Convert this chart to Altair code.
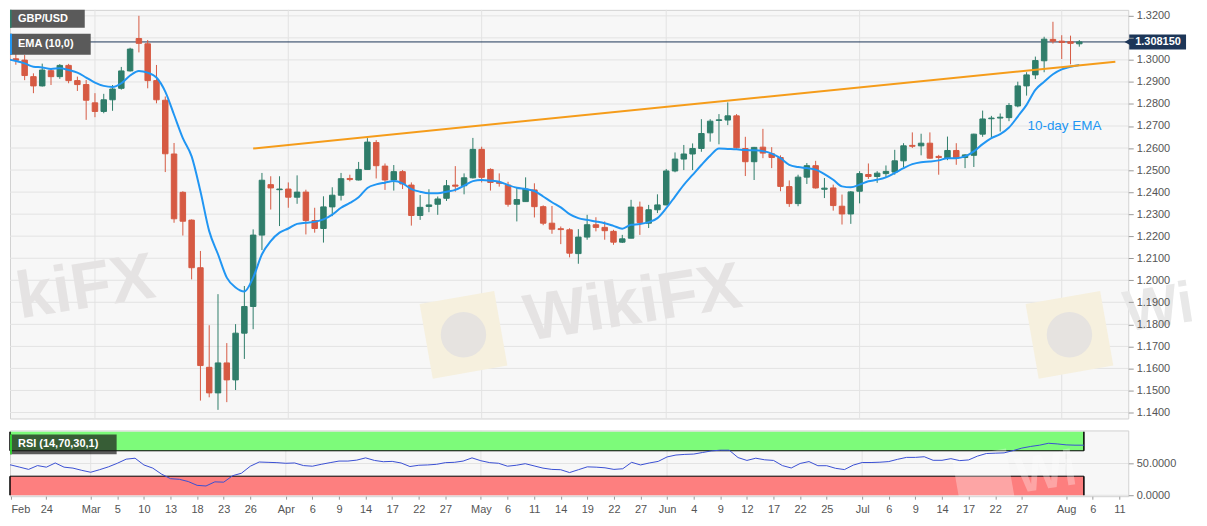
import altair as alt
import pandas as pd

# ---------------- data ----------------
opens = [1.3046, 1.3005, 1.2999, 1.2924, 1.2882, 1.2951, 1.2924, 1.2975, 1.2906, 1.2888,
         1.2805, 1.2766, 1.2819, 1.2871, 1.2950, 1.3097, 1.3073, 1.2906, 1.2817, 1.2573,
         1.2399, 1.2273, 1.2057, 1.1605, 1.1489, 1.1625, 1.1548, 1.1760, 1.1881, 1.2205,
         1.2434, 1.2411, 1.2414, 1.2377, 1.2400, 1.2271, 1.2235, 1.2333, 1.2386, 1.2462,
         1.2455, 1.2503, 1.2625, 1.2518, 1.2455, 1.2493, 1.2432, 1.2294, 1.2335, 1.2345,
         1.2372, 1.2432, 1.2429, 1.2465, 1.2594, 1.2503, 1.2444, 1.2432, 1.2345, 1.2357,
         1.2410, 1.2334, 1.2259, 1.2234, 1.2229, 1.2121, 1.2196, 1.2252, 1.2240, 1.2222,
         1.2173, 1.2191, 1.2332, 1.2259, 1.2320, 1.2342, 1.2496, 1.2550, 1.2573, 1.2598,
         1.2669, 1.2725, 1.2727, 1.2746, 1.2598, 1.2538, 1.2604, 1.2574, 1.2557, 1.2425,
         1.2348, 1.2468, 1.2520, 1.2413, 1.2419, 1.2336, 1.2301, 1.2404, 1.2480, 1.2471,
         1.2484, 1.2491, 1.2542, 1.2612, 1.2610, 1.2622, 1.2562, 1.2554, 1.2589, 1.2557,
         1.2567, 1.2663, 1.2733, 1.2736, 1.2738, 1.2791, 1.2882, 1.2932, 1.2996, 1.3093,
         1.3085, 1.3082, 1.3073]
highs = [1.3060, 1.3035, 1.3022, 1.2939, 1.2983, 1.2962, 1.2981, 1.2982, 1.2924, 1.2909,
         1.2849, 1.2846, 1.2886, 1.2968, 1.3055, 1.3200, 1.3090, 1.2977, 1.2834, 1.2623,
         1.2404, 1.2276, 1.2133, 1.1796, 1.1937, 1.1715, 1.1801, 1.1974, 1.2231, 1.2487,
         1.2472, 1.2472, 1.2444, 1.2476, 1.2411, 1.2329, 1.2381, 1.2422, 1.2487, 1.2479,
         1.2537, 1.2645, 1.2636, 1.2530, 1.2523, 1.2500, 1.2444, 1.2387, 1.2413, 1.2380,
         1.2455, 1.2518, 1.2485, 1.2646, 1.2606, 1.2508, 1.2485, 1.2447, 1.2420, 1.2467,
         1.2440, 1.2340, 1.2337, 1.2244, 1.2236, 1.2232, 1.2297, 1.2286, 1.2267, 1.2229,
         1.2206, 1.2365, 1.2357, 1.2342, 1.2390, 1.2505, 1.2580, 1.2614, 1.2621, 1.2731,
         1.2731, 1.2754, 1.2807, 1.2754, 1.2651, 1.2605, 1.2687, 1.2604, 1.2567, 1.2453,
         1.2479, 1.2532, 1.2542, 1.2464, 1.2434, 1.2389, 1.2405, 1.2495, 1.2530, 1.2495,
         1.2521, 1.2592, 1.2622, 1.2671, 1.2665, 1.2671, 1.2569, 1.2652, 1.2622, 1.2572,
         1.2665, 1.2770, 1.2746, 1.2757, 1.2804, 1.2901, 1.2944, 1.3015, 1.3105, 1.3173,
         1.3112, 1.3110, 1.3090]
lows = [1.2990, 1.2978, 1.2908, 1.2849, 1.2879, 1.2886, 1.2914, 1.2894, 1.2859, 1.2728,
        1.2740, 1.2758, 1.2769, 1.2865, 1.2947, 1.3034, 1.2871, 1.2803, 1.2491, 1.2261,
        1.2203, 1.2004, 1.1454, 1.1469, 1.1412, 1.1447, 1.1502, 1.1643, 1.1778, 1.2137,
        1.2321, 1.2246, 1.2329, 1.2347, 1.2208, 1.2216, 1.2171, 1.2291, 1.2362, 1.2449,
        1.2453, 1.2503, 1.2462, 1.2410, 1.2407, 1.2414, 1.2248, 1.2274, 1.2309, 1.2297,
        1.2360, 1.2402, 1.2390, 1.2462, 1.2444, 1.2407, 1.2425, 1.2334, 1.2267, 1.2357,
        1.2285, 1.2250, 1.2211, 1.2164, 1.2104, 1.2075, 1.2184, 1.2222, 1.2184, 1.2161,
        1.2169, 1.2191, 1.2206, 1.2237, 1.2305, 1.2340, 1.2490, 1.2500, 1.2500, 1.2583,
        1.2629, 1.2617, 1.2704, 1.2598, 1.2473, 1.2455, 1.2554, 1.2509, 1.2404, 1.2333,
        1.2336, 1.2437, 1.2416, 1.2373, 1.2316, 1.2253, 1.2256, 1.2349, 1.2460, 1.2442,
        1.2464, 1.2479, 1.2512, 1.2600, 1.2567, 1.2552, 1.2479, 1.2545, 1.2524, 1.2509,
        1.2514, 1.2651, 1.2647, 1.2675, 1.2722, 1.2785, 1.2838, 1.2913, 1.2944, 1.3074,
        1.3004, 1.2980, 1.3060]
closes = [1.3004, 1.2998, 1.2929, 1.2882, 1.2954, 1.2924, 1.2975, 1.2906, 1.2888, 1.2817,
          1.2766, 1.2819, 1.2868, 1.2950, 1.3049, 1.3075, 1.2906, 1.2819, 1.2574, 1.2279,
          1.2268, 1.2057, 1.1613, 1.1489, 1.1625, 1.1548, 1.1760, 1.1881, 1.2205, 1.2454,
          1.2419, 1.2414, 1.2377, 1.2400, 1.2271, 1.2235, 1.2333, 1.2386, 1.2461, 1.2457,
          1.2503, 1.2627, 1.2520, 1.2455, 1.2493, 1.2437, 1.2294, 1.2331, 1.2342, 1.2369,
          1.2429, 1.2427, 1.2465, 1.2594, 1.2467, 1.2444, 1.2440, 1.2345, 1.2366, 1.2414,
          1.2334, 1.2259, 1.2232, 1.2230, 1.2123, 1.2196, 1.2252, 1.2240, 1.2225, 1.2173,
          1.2188, 1.2332, 1.2262, 1.2320, 1.2342, 1.2496, 1.2550, 1.2573, 1.2598, 1.2666,
          1.2722, 1.2728, 1.2746, 1.2601, 1.2538, 1.2603, 1.2577, 1.2557, 1.2426, 1.2348,
          1.2468, 1.2520, 1.2419, 1.2418, 1.2339, 1.2301, 1.2401, 1.2484, 1.2471, 1.2486,
          1.2494, 1.2542, 1.2610, 1.2608, 1.2622, 1.2554, 1.2557, 1.2589, 1.2554, 1.2569,
          1.2663, 1.2732, 1.2736, 1.2740, 1.2793, 1.2882, 1.2932, 1.2997, 1.3094, 1.3085,
          1.3079, 1.3075, 1.30815]
ema10 = [1.3004, 1.2995, 1.2984, 1.2969, 1.2966, 1.2959, 1.2962, 1.2954, 1.2942, 1.2920,
         1.2897, 1.2882, 1.2877, 1.2894, 1.2929, 1.2950, 1.2942, 1.2920, 1.2856, 1.2751,
         1.2645, 1.2562, 1.2404, 1.2223, 1.2118, 1.2012, 1.1967, 1.1949, 1.2012, 1.2118,
         1.2178, 1.2216, 1.2235, 1.2256, 1.2261, 1.2265, 1.2276, 1.2298, 1.2329, 1.2351,
         1.2377, 1.2419, 1.2435, 1.2443, 1.2450, 1.2440, 1.2414, 1.2402, 1.2395, 1.2395,
         1.2402, 1.2410, 1.2429, 1.2450, 1.2455, 1.2452, 1.2447, 1.2432, 1.2420, 1.2414,
         1.2405, 1.2380, 1.2354, 1.2331, 1.2300, 1.2282, 1.2274, 1.2267, 1.2259, 1.2247,
         1.2234, 1.2252, 1.2255, 1.2264, 1.2282, 1.2327, 1.2380, 1.2433, 1.2478, 1.2523,
         1.2565, 1.2598, 1.2596, 1.2594, 1.2591, 1.2590, 1.2586, 1.2575, 1.2554, 1.2524,
         1.2514, 1.2509, 1.2502, 1.2482, 1.2456, 1.2426, 1.2422, 1.2434, 1.2449, 1.2456,
         1.2467, 1.2487, 1.2509, 1.2527, 1.2536, 1.2539, 1.2544, 1.2554, 1.2554, 1.2562,
         1.2585, 1.2618, 1.2645, 1.2663, 1.2693, 1.2743, 1.2796, 1.2864, 1.2901, 1.2935,
         1.2957, 1.2969, 1.2977]
rsi14 = [49.2, 47.7, 44.2, 40.7, 46.7, 44.2, 50.8, 44.2, 42.7, 39.2,
         36.2, 40.2, 44.7, 50.3, 56.8, 58.3, 47.7, 42.7, 33.2, 26.1,
         25.1, 21.6, 15.6, 14.6, 21.1, 20.6, 30.7, 34.7, 45.7, 52.3,
         51.8, 51.3, 50.3, 50.8, 46.7, 45.7, 48.7, 51.3, 53.8, 53.8,
         55.3, 58.8, 54.8, 52.8, 53.3, 50.8, 45.2, 47.2, 47.7, 48.7,
         51.3, 51.8, 53.8, 58.8, 54.3, 51.3, 50.3, 45.7, 47.2, 49.7,
         46.2, 42.7, 40.7, 40.2, 35.7, 40.2, 44.7, 44.2, 43.2, 40.7,
         41.7, 51.8, 47.7, 50.8, 53.3, 60.3, 63.3, 64.3, 64.8, 67.3,
         69.8, 70.9, 70.9, 59.3, 54.8, 58.3, 55.8, 54.8, 46.7, 42.9,
         50.0, 53.0, 46.5, 46.5, 42.4, 40.4, 47.5, 51.5, 51.5, 52.0,
         53.0, 56.6, 59.6, 59.6, 60.6, 55.0, 55.0, 57.6, 54.5, 55.6,
         61.6, 65.7, 66.2, 66.7, 70.2, 74.2, 76.8, 78.8, 81.8, 80.8,
         79.3, 78.8, 78.8]

tick_idx = [1, 5, 10, 13, 16, 19, 22, 25, 28, 32, 35, 38, 41, 44, 47, 50, 54, 57, 60, 63,
            66, 69, 72, 75, 78, 81, 84, 87, 90, 93, 97, 100, 103, 106, 109, 112, 115, 120, 123, 126]
tick_text = ["Feb", "24", "Mar", "5", "10", "13", "18", "23", "26", "Apr", "6", "9", "14", "17",
             "22", "27", "May", "6", "11", "14", "19", "22", "27", "Jun", "4", "9", "12", "17",
             "22", "25", "Jul", "6", "9", "14", "17", "22", "27", "Aug", "6", "11"]
month_idx = [10, 32, 54, 75, 97, 120]
price_ticks = [1.14, 1.15, 1.16, 1.17, 1.18, 1.19, 1.20, 1.21, 1.22, 1.23, 1.24, 1.25,
               1.26, 1.27, 1.28, 1.29, 1.30, 1.31, 1.32]
rsi_ticks = [0, 50]
rsi_bands_lo = [70, 0]
rsi_bands_hi = [100, 30]
rsi_band_names = ["overbought", "oversold"]
trend_idx = [28, 126.1]
trend_val = [1.2598, 1.2992]
last_price = 1.30815
ema_label = ["10-day EMA"]
ema_label_pos = [116.1, 1.2702]
series_name = "GBP/USD"
ema_name = "EMA (10,0)"
rsi_name = "RSI (14,70,30,1)"
watermark = "WikiFX"

# ---------------- styles ----------------
GREEN = "#2f7d6a"
RED = "#d65a43"
EMA_C = "#2196f3"
ORANGE = "#f59c1a"
NAVY = "#1d3658"
RSI_C = "#3a4fd3"
PLOT_BG = "#f7f7f7"
GRID = "#e3e3e3"
BORDER = "#d2d2d2"
LABEL = "#555555"
FONT = "Liberation Sans"
GREEN_BAND = "#7dfb7a"
RED_BAND = "#fd7f7f"
WM = "#e5e3e3"
LOGO = "#f6f0de"

N = len(closes)
X_MIN, X_MAX = 0.9, 127.0
P_MIN, P_MAX = 1.13729, 1.32271
R_MIN, R_MAX = -1.5, 102.0
W, H1, H2 = 1122, 410, 66

df = pd.DataFrame(dict(i=list(range(N)), o=opens, h=highs, l=lows, c=closes,
                       ema=ema10, rsi=rsi14))

xs = alt.Scale(domain=[X_MIN, X_MAX], nice=False, zero=False)
ys = alt.Scale(domain=[P_MIN, P_MAX], nice=False, zero=False)
rs = alt.Scale(domain=[R_MIN, R_MAX], nice=False, zero=False)

updown = alt.condition("datum.c >= datum.o", alt.value(GREEN), alt.value(RED))

hidden_price = 1.31   # covered by the last-price box in the reference
price_axis = alt.Axis(orient="right", values=price_ticks,
                      labelExpr=f"datum.value == {hidden_price} ? '' : format(datum.value, '.4f')",
                      grid=False, domain=False, ticks=True, tickSize=5, zindex=1,
                      tickColor="#9a9a9a", labelColor=LABEL, labelFontSize=11,
                      labelFont=FONT, labelPadding=3, title=None)
x_expr = "[" + ",".join(repr(t) for t in tick_text) + "][indexof([" + \
         ",".join(str(v) for v in tick_idx) + "], datum.value)]"
x_axis = alt.Axis(values=tick_idx, labelExpr=x_expr, grid=False, domain=False, ticks=True,
                  tickSize=3, tickColor="#9a9a9a", labelColor=LABEL, labelFontSize=11,
                  labelFont=FONT, labelPadding=4, labelOverlap=False, labelBound=False,
                  labelFlush=False, title=None, zindex=1,
                  labelAlign={"condition": {"test": f"datum.value == {tick_idx[0]}",
                                            "value": "left"}, "value": "center"})
rsi_axis = alt.Axis(orient="right", values=rsi_ticks, format=".4f", grid=False,
                    domain=False, ticks=True, tickSize=5, zindex=1,
                    tickColor="#9a9a9a", labelColor=LABEL, labelFontSize=11,
                    labelFont=FONT, labelPadding=3, title=None)


def xt(field):   # x in the price pane (no axis drawn there)
    return alt.X(field, scale=xs, axis=None, title=None)


def xb(field):   # x in the RSI pane (carries the date axis)
    return alt.X(field, scale=xs, axis=x_axis, title=None)


def yp(field):
    return alt.Y(field, scale=ys, axis=price_axis, title=None)


def yr(field):
    return alt.Y(field, scale=rs, axis=rsi_axis, title=None)


ONE = pd.DataFrame({"k": [0]})


def box(x0, x1, y0, y1, fill, opacity=1.0):
    return alt.Chart(ONE).mark_rect(color=fill, opacity=opacity).encode(
        x=alt.value(x0), x2=alt.value(x1), y=alt.value(y0), y2=alt.value(y1))


def label(text, x, y, size=11):
    return alt.Chart(pd.DataFrame({"t": [text]})).mark_text(
        align="left", baseline="middle", color="white", fontWeight="bold",
        fontSize=size, font=FONT).encode(x=alt.value(x), y=alt.value(y), text="t:N")


def wm_text(text, x, y, align="center", size=66, color=WM, opacity=1.0, clip=True):
    return alt.Chart(pd.DataFrame({"t": [text]})).mark_text(
        fontSize=size, fontWeight="bold", color=color, angle=351, align=align,
        baseline="middle", font=FONT, clip=clip, opacity=opacity).encode(
        x=alt.value(x), y=alt.value(y), text="t:N")


def logo(x, y, side=76, fill=LOGO, inner="#e6e3e0", opacity=1.0):
    sq = alt.Chart(ONE).mark_point(shape="square", filled=True, size=side * side,
                                   angle=350, color=fill, opacity=opacity).encode(
        x=alt.value(x), y=alt.value(y))
    head = alt.Chart(ONE).mark_point(shape="circle", filled=True, size=(side * 0.6) ** 2,
                                     color=inner, opacity=opacity).encode(
        x=alt.value(x), y=alt.value(y))
    return [sq, head]


month_df = pd.DataFrame({"m": month_idx})
vgrid_top = alt.Chart(month_df).mark_rule(color=GRID).encode(x=xt("m:Q"))
hgrid_top = alt.Chart(pd.DataFrame({"g": price_ticks})).mark_rule(color=GRID).encode(y=yp("g:Q"))

price_df = pd.DataFrame({"p": [last_price], "t": [f"{last_price:.6f}"]})
price_line = alt.Chart(price_df).mark_rule(color=NAVY, strokeWidth=1).encode(y=yp("p:Q"))

wicks = alt.Chart(df).mark_rule(strokeWidth=1, clip=True).encode(
    x=xt("i:Q"), y=yp("l:Q"), y2="h:Q", color=updown)
bodies = alt.Chart(df).mark_bar(size=5.5, strokeWidth=1, clip=True).encode(
    x=xt("i:Q"), y=yp("o:Q"), y2="c:Q", color=updown, stroke=updown)
ema_line = alt.Chart(df).mark_line(color=EMA_C, strokeWidth=2, clip=True,
                                   interpolate="monotone").encode(x=xt("i:Q"), y=yp("ema:Q"))
trend = alt.Chart(pd.DataFrame({"ti": trend_idx, "tv": trend_val})).mark_line(
    color=ORANGE, strokeWidth=2, clip=True).encode(x=xt("ti:Q"), y=yp("tv:Q"))
ema_text = alt.Chart(pd.DataFrame({"x": [ema_label_pos[0]], "y": [ema_label_pos[1]],
                                   "t": ema_label})).mark_text(
    align="left", baseline="middle", fontSize=13.5, color=EMA_C, font=FONT).encode(
    x=xt("x:Q"), y=yp("y:Q"), text="t:N")

pbox = alt.Chart(price_df).mark_rule(strokeWidth=15, color=NAVY).encode(
    x=alt.value(1123), x2=alt.value(1180), y=yp("p:Q"))
parrow = alt.Chart(price_df).mark_point(shape="triangle-left", filled=True, size=40,
                                        color=NAVY, opacity=1).encode(
    x=alt.value(1121), y=yp("p:Q"))
ptext = alt.Chart(price_df).mark_text(align="left", baseline="middle", color="white",
                                      fontWeight="bold", fontSize=11, font=FONT).encode(
    x=alt.value(1129), y=yp("p:Q"), text="t:N")

right_wm = wm_text(watermark[:2], 1118, 306, align="left", size=58, color="#e8e8e8",
                   clip=False)
left_wm = wm_text(watermark[2:], 7, 290, align="left", size=66)

top = alt.layer(
    vgrid_top, hgrid_top,
    *logo(455, 326), *logo(1063, 326),
    wm_text(watermark, 625, 295), left_wm, right_wm,
    price_line, wicks, bodies, ema_line, trend, ema_text,
    pbox, parrow, ptext,
    box(0, 75, 0, 18, "#5a5a5a"), box(0, 1.6, 0, 18, GREEN), label(series_name, 8, 9),
    box(0, 81, 24, 45, "#5a5a5a"), box(0, 2, 24, 45, EMA_C), label(ema_name, 8, 34.5),
).properties(width=W, height=H1)

# ---------------- RSI pane ----------------
bands_df = pd.DataFrame({"lo": rsi_bands_lo, "hi": rsi_bands_hi, "zone": rsi_band_names})
edge_calc = dict(x0=f"{X_MIN}", x1=f"{N - 1}")

vgrid_bot = alt.Chart(month_df).mark_rule(color=GRID).encode(x=xb("m:Q"))
hgrid_bot = alt.Chart(pd.DataFrame({"g": rsi_ticks})).mark_rule(color=GRID).encode(y=yr("g:Q"))
bands = alt.Chart(bands_df).transform_calculate(**edge_calc).mark_rect().encode(
    x=xb("x0:Q"), x2="x1:Q", y=yr("lo:Q"), y2="hi:Q",
    color=alt.Color("zone:N", scale=alt.Scale(domain=rsi_band_names,
                                              range=[GREEN_BAND, RED_BAND]), legend=None))
hedges = alt.Chart(pd.DataFrame({"lv": [rsi_bands_lo[0], rsi_bands_hi[1]]})).transform_calculate(
    **edge_calc).mark_rule(color="black", strokeWidth=1).encode(
    x=xb("x0:Q"), x2="x1:Q", y=yr("lv:Q"))
redge = alt.Chart(bands_df).transform_calculate(**edge_calc).mark_rule(
    color="black", strokeWidth=1.5).encode(x=xb("x1:Q"), y=yr("lo:Q"), y2="hi:Q")
ledge = alt.Chart(bands_df).transform_calculate(**edge_calc).mark_rule(
    color="black", strokeWidth=1.5).encode(x=xb("x0:Q"), y=yr("lo:Q"), y2="hi:Q")
rsi_line = alt.Chart(df).mark_line(color=RSI_C, strokeWidth=1, clip=True).encode(
    x=xb("i:Q"), y=yr("rsi:Q"))

rsi_wm_logo = alt.Chart(ONE).mark_point(shape="square", filled=True, size=55 * 55, angle=350,
                                        color="white", opacity=0.3, clip=True).encode(
    x=alt.value(977), y=alt.value(50))
rsi_wm = wm_text(watermark[:2], 1010, 48, align="left", size=50, color="white", opacity=0.3)

bottom = alt.layer(
    vgrid_bot, hgrid_bot, bands, hedges, redge, ledge, rsi_wm_logo, rsi_wm, rsi_line,
    box(0, 107, 4, 24, "#1a1a1a", 0.7), box(0, 2, 4, 24, "#33cc33"), label(rsi_name, 8, 14),
).properties(width=W, height=H2)

chart = alt.vconcat(top, bottom, spacing=10).properties(padding=0).configure(
    font=FONT).configure_view(fill=PLOT_BG, stroke=BORDER, strokeWidth=1)

chart.save("out.html", embed_options={"renderer": "svg", "actions": False})
